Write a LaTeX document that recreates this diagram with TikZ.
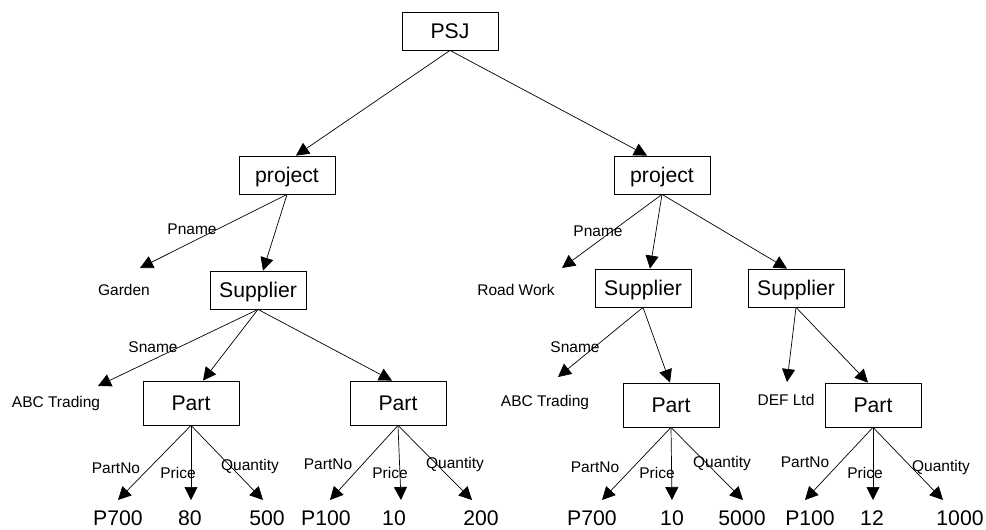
\documentclass[tikz,border=0pt]{standalone}
\usepackage{fontspec}
\setmainfont{Liberation Sans}
\usetikzlibrary{arrows.meta}
\begin{document}
\begin{tikzpicture}[x=1pt,y=-1pt,
  box/.style={draw, line width=0.8pt, minimum width=96pt, minimum height=38pt,
    inner sep=0pt, text height=14.6pt, text depth=0pt,
    font=\fontsize{21.2}{24}\selectfont},
  partbox/.style={box, minimum height=44pt},
  val/.style={inner sep=0pt, text height=14.6pt, text depth=0pt,
    font=\fontsize{21.2}{24}\selectfont},
  small/.style={inner sep=0pt, text height=10.7pt, text depth=0pt,
    font=\fontsize{15.5}{18}\selectfont},
  edge/.style={line width=0.7pt, -{Triangle[length=13pt,width=13pt]}}]
\useasboundingbox (0,0) rectangle (986,530);

% element boxes
\node[box] (psj) at (450,31) {PSJ};
\node[box] (lp) at (287,175) {project};
\node[box] (rp) at (662,175) {project};
\node[box] (s1) at (258,290) {Supplier};
\node[box] (s2) at (643,288) {Supplier};
\node[box] (s3) at (796,288) {Supplier};
\node[partbox] (p1) at (191,403) {Part};
\node[partbox] (p2) at (398,403) {Part};
\node[partbox] (p3) at (671,405) {Part};
\node[partbox] (p4) at (873,405) {Part};

% attribute values
\node[small] (garden) at (124,290) {Garden};
\node[small] (road) at (516,290) {Road Work};
\node[small] (abc1) at (56,402) {ABC Trading};
\node[small] (abc2) at (545,401) {ABC Trading};
\node[small] (def) at (786,400) {DEF Ltd};

\node[val] (v1) at (118,518) {P700};
\node[val] (v2) at (190,518) {80};
\node[val] (v3) at (267,518) {500};
\node[val] (v4) at (326,518) {P100};
\node[val] (v5) at (394,518) {10};
\node[val] (v6) at (481,518) {200};
\node[val] (v7) at (592,518) {P700};
\node[val] (v8) at (672,518) {10};
\node[val] (v9) at (742,518) {5000};
\node[val] (v10) at (810,518) {P100};
\node[val] (v11) at (872,518) {12};
\node[val] (v12) at (960,518) {1000};

% arrow ends above the attribute values
\coordinate (tg) at (140,268);
\coordinate (tr) at (562,268);
\coordinate (ta1) at (98,386);
\coordinate (ta2) at (558,377);
\coordinate (td) at (787,382);
\coordinate (t1) at (118,500);
\coordinate (t2) at (191,500);
\coordinate (t3) at (263,500);
\coordinate (t4) at (330,500);
\coordinate (t5) at (401,500);
\coordinate (t6) at (472,500);
\coordinate (t7) at (602,500);
\coordinate (t8) at (672,500);
\coordinate (t9) at (743,500);
\coordinate (t10) at (805,500);
\coordinate (t11) at (873,500);
\coordinate (t12) at (943,500);

% connectors
\draw[edge] (psj.south) -- ([xshift=9pt]lp.north);
\draw[edge] (psj.south) -- ([xshift=-15pt]rp.north);
\draw[edge] (lp.south) -- (tg);
\draw[edge] (lp.south) -- ([xshift=5pt]s1.north);
\draw[edge] (rp.south) -- (tr);
\draw[edge] (rp.south) -- ([xshift=7pt]s2.north);
\draw[edge] (rp.south) -- ([xshift=-9pt]s3.north);
\draw[edge] (s1.south) -- (ta1);
\draw[edge] (s1.south) -- ([xshift=12pt]p1.north);
\draw[edge] (s1.south) -- ([xshift=-6pt]p2.north);
\draw[edge] (s2.south) -- (ta2);
\draw[edge] (s2.south) -- ([xshift=-1pt]p3.north);
\draw[edge] (s3.south) -- (td);
\draw[edge] (s3.south) -- ([xshift=-5pt]p4.north);
\foreach \p/\a/\b/\c in {p1/t1/t2/t3, p2/t4/t5/t6, p3/t7/t8/t9, p4/t10/t11/t12}{
  \draw[edge] (\p.south) -- (\a);
  \draw[edge] (\p.south) -- (\b);
  \draw[edge] (\p.south) -- (\c);
}

% connector labels
\node[small] (l1) at (192,229) {Pname};
\node[small] (l2) at (598,231) {Pname};
\node[small] (l3) at (153,347) {Sname};
\node[small] (l4) at (575,347) {Sname};
\node[small] (l5) at (116,468) {PartNo};
\node[small] (l6) at (178,473) {Price};
\node[small] (l7) at (250,465) {Quantity};
\node[small] (l8) at (328,464) {PartNo};
\node[small] (l9) at (390,473) {Price};
\node[small] (l10) at (455,463) {Quantity};
\node[small] (l11) at (595,467) {PartNo};
\node[small] (l12) at (657,473) {Price};
\node[small] (l13) at (722,462) {Quantity};
\node[small] (l14) at (805,462) {PartNo};
\node[small] (l15) at (865,473) {Price};
\node[small] (l16) at (941,466) {Quantity};
\end{tikzpicture}
\end{document}
